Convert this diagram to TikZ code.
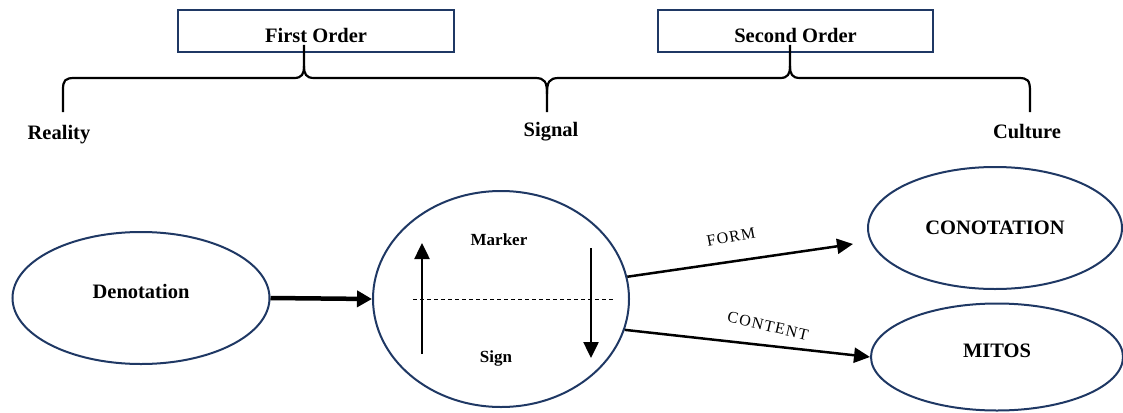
\documentclass[tikz,border=0pt]{standalone}
\usepackage{fontspec}
\setmainfont{Liberation Serif}
\usetikzlibrary{shapes.geometric,arrows.meta}
\definecolor{navy}{HTML}{1F3864}
\tikzset{
  obox/.style={draw=navy, line width=2pt, fill=white, minimum width=276pt, minimum height=42pt, inner sep=0pt, text height=22pt, text depth=0pt, font=\fontsize{20.5pt}{24pt}\selectfont\bfseries},
  ell/.style={draw=navy, line width=2pt, ellipse, inner sep=0pt, text depth=0pt, font=\fontsize{20.5pt}{24pt}\selectfont\bfseries},
  lbl/.style={anchor=base, inner sep=0pt, font=\fontsize{20.5pt}{24pt}\selectfont\bfseries},
  small/.style={anchor=base, inner sep=0pt, font=\fontsize{17pt}{20pt}\selectfont\bfseries},
  arrlbl/.style={inner sep=0pt, font=\fontsize{16pt}{19pt}\selectfont\addfontfeatures{LetterSpace=8}},
  brace/.style={line width=2.2pt, line join=round},
  conn/.style={line width=2.5pt, -{Triangle[length=16pt,width=15pt]}},
  bigconn/.style={line width=4.5pt, -{Triangle[length=15pt,width=16pt]}},
}
\begin{document}
\begin{tikzpicture}[x=1pt,y=-1pt]
\useasboundingbox (0,0) rectangle (1123,412);
% top boxes
\node[obox] (fo) at (316,31) {First Order};
\node[obox, minimum width=275pt] (so) at (795.5,31) {Second Order};
% braces
\draw[brace] (63,112) -- (63,90) .. controls (63,80) and (65,78) .. (75,78) -- (294,78) .. controls (302,78) and (304,74) .. (304,66) -- (304,45);
\draw[brace] (304,66) .. controls (304,74) and (306,78) .. (314,78) -- (535,78) .. controls (545,78) and (547,82) .. (547,94) -- (547,112);
\draw[brace] (547,94) .. controls (547,82) and (549,78) .. (559,78) -- (780,78) .. controls (788,78) and (790,74) .. (790,66) -- (790,45);
\draw[brace] (790,66) .. controls (790,74) and (792,78) .. (800,78) -- (1018,78) .. controls (1028,78) and (1030,80) .. (1030,92) -- (1030,112);
% labels under braces
\node[lbl] (reality) at (59,139) {Reality};
\node[lbl] (signal) at (551,136) {Signal};
\node[lbl] (culture) at (1027,138) {Culture};
% ellipses
\node[ell, minimum width=257pt, minimum height=132pt, text height=0pt] (den) at (141,298) {Denotation};
\node[ell, minimum width=256pt, minimum height=216pt] (circ) at (501,299) {};
\node[ell, minimum width=254pt, minimum height=122pt, text height=12pt] (con) at (995,228) {CONOTATION};
\node[ell, minimum width=252pt, minimum height=107pt, text height=0pt] (mit) at (997,357) {MITOS};
% inside circle
\node[small] (marker) at (499,245) {Marker};
\node[small] (sign) at (496,362) {Sign};
\coordinate (upS) at (422,354);
\coordinate (upE) at (422,243);
\coordinate (dnS) at (591,248);
\coordinate (dnE) at (591,358);
\coordinate (dashL) at (413,299);
\coordinate (dashR) at (615,299);
\draw[line width=1pt, dash pattern=on 4pt off 3pt] (dashL) -- (dashR);
\draw[conn] (upS) -- (upE);
\draw[conn] (dnS) -- (dnE);
% connectors
\draw[bigconn] (den.east) -- (circ.west);
\coordinate (formE) at (853,244);
\draw[conn] (circ.10) -- (formE);
\draw[conn] (circ.-14) -- (mit.west);
\node[arrlbl, rotate=11] (form) at (731,237) {FORM};
\node[arrlbl, rotate=-13] (content) at (768,326) {CONTENT};
\end{tikzpicture}
\end{document}
